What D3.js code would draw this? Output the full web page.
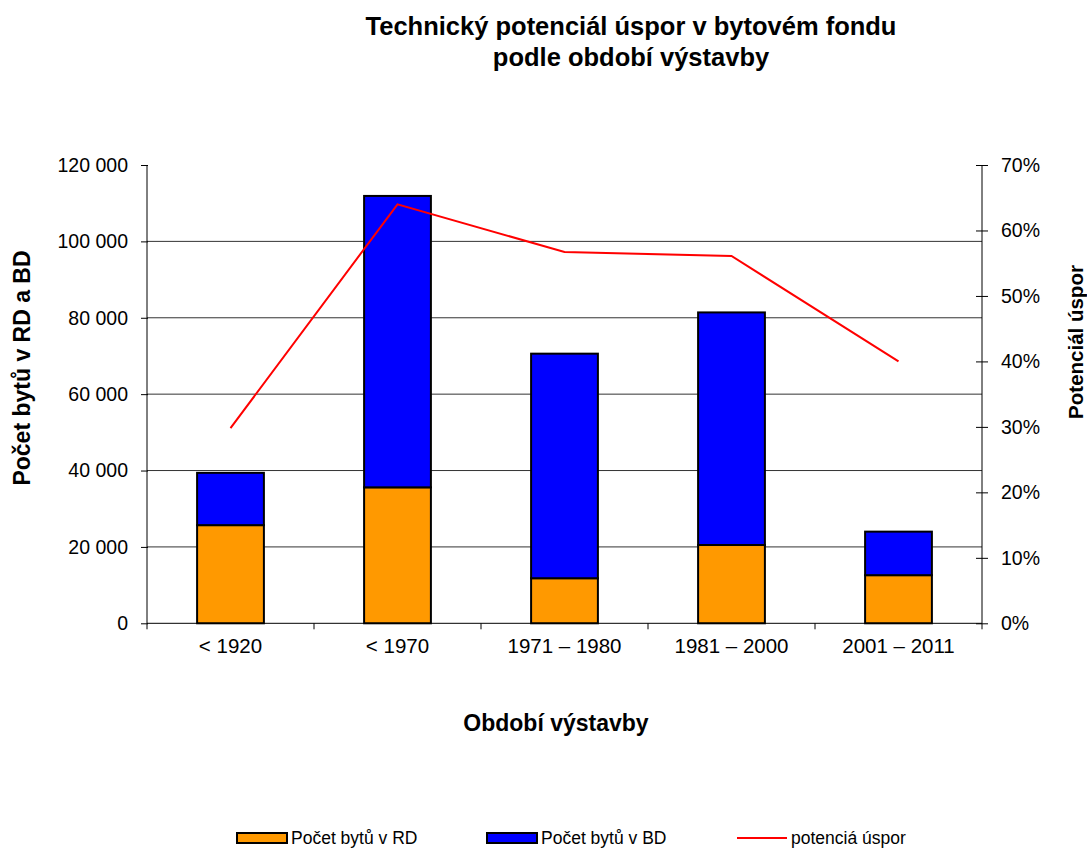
<!DOCTYPE html>
<html>
<head>
<meta charset="utf-8">
<script src="https://cdn.jsdelivr.net/npm/d3@7"></script>
<style>
  html, body { margin: 0; padding: 0; background: #fff; }
  svg { display: block; font-family: "Liberation Sans", Arial, sans-serif; }
</style>
</head>
<body>
<svg id="chart" width="1087" height="848"></svg>
<script>
// Construction periods and dwelling counts
const periods = ["< 1920", "< 1970", "1971 – 1980", "1981 – 2000", "2001 – 2011"];
const flatsRD = [25700, 35600, 11800, 20500, 12600];   // family houses
const flatsBD = [13700, 76300, 58800, 60900, 11400];   // apartment buildings
const savings = [0.298, 0.640, 0.567, 0.561, 0.400];   // technical savings potential

const leftTicks = [0, 20000, 40000, 60000, 80000, 100000, 120000];
const rightTicks = [0, 0.1, 0.2, 0.3, 0.4, 0.5, 0.6, 0.7];

const seriesNames = ["Počet bytů v RD", "Počet bytů v BD", "potenciá úspor"];
const colors = { rd: "#FF9900", bd: "#0000FF", line: "#FF0000" };

const svg = d3.select("#chart");
const plot = { left: 147, right: 982, top: 165, bottom: 623.3 };

const x = d3.scaleBand().domain(periods).range([plot.left, plot.right]).paddingInner(0).paddingOuter(0);
const yL = d3.scaleLinear().domain([0, 120000]).range([plot.bottom, plot.top]);
const yR = d3.scaleLinear().domain([0, 0.7]).range([plot.bottom, plot.top]);

const fmtThousands = v => d3.format(",")(v).replace(/,/g, " ");

// Horizontal gridlines
svg.append("g")
  .selectAll("line")
  .data(leftTicks.filter(v => v > 0 && v < 120000))
  .join("line")
  .attr("x1", plot.left).attr("x2", plot.right)
  .attr("y1", d => yL(d)).attr("y2", d => yL(d))
  .attr("stroke", "#333").attr("stroke-width", 1);

// Stacked bars
const stackData = periods.map((p, i) => ({ period: p, rd: flatsRD[i], bd: flatsBD[i] }));
const stacked = d3.stack().keys(["rd", "bd"])(stackData);
const barW = x.bandwidth() * 0.4;

svg.append("g")
  .selectAll("g")
  .data(stacked)
  .join("g")
  .attr("fill", d => colors[d.key])
  .selectAll("rect")
  .data(d => d)
  .join("rect")
  .attr("x", d => x(d.data.period) + (x.bandwidth() - barW) / 2)
  .attr("y", d => yL(d[1]))
  .attr("width", barW)
  .attr("height", d => yL(d[0]) - yL(d[1]))
  .attr("stroke", "#000")
  .attr("stroke-width", 2);

// Savings potential line
const line = d3.line()
  .x((d, i) => x(periods[i]) + x.bandwidth() / 2)
  .y(d => yR(d));
svg.append("path")
  .datum(savings)
  .attr("d", line)
  .attr("fill", "none")
  .attr("stroke", colors.line)
  .attr("stroke-width", 2);

// Left axis
const axisL = d3.axisLeft(yL).tickValues(leftTicks).tickFormat(fmtThousands).tickSize(5).tickPadding(14);
const gL = svg.append("g").attr("transform", `translate(${plot.left},0)`).call(axisL);
gL.selectAll(".tick line").attr("x2", -6).attr("x1", 1);

// Right axis
const axisR = d3.axisRight(yR).tickValues(rightTicks).tickFormat(d3.format(".0%")).tickSize(5).tickPadding(14);
const gR = svg.append("g").attr("transform", `translate(${plot.right},0)`).call(axisR);
gR.selectAll(".tick line").attr("x1", -6).attr("x2", 6);

// Bottom axis
const axisB = d3.axisBottom(x).tickSize(0).tickPadding(15);
const gB = svg.append("g").attr("transform", `translate(0,${plot.bottom})`).call(axisB);
gB.select(".domain").remove();
svg.append("line")
  .attr("x1", plot.left).attr("x2", plot.right)
  .attr("y1", plot.bottom).attr("y2", plot.bottom)
  .attr("stroke", "#000");
svg.append("g")
  .selectAll("line")
  .data(periods.map(p => x(p)).concat([plot.right]))
  .join("line")
  .attr("x1", d => d).attr("x2", d => d)
  .attr("y1", plot.bottom).attr("y2", plot.bottom + 6)
  .attr("stroke", "#000");

[gL, gR, gB].forEach(g => {
  g.select(".domain").attr("stroke", "#000");
  g.selectAll(".tick line").attr("stroke", "#000");
  g.selectAll("text").attr("fill", "#000")
    .attr("font-family", "\"Liberation Sans\", Arial, sans-serif");
});
gL.selectAll("text").attr("font-size", 19.5);
gR.selectAll("text").attr("font-size", 19.5);
gB.selectAll("text").attr("font-size", 20.5);
gL.select(".domain").attr("d", `M0,${plot.top}V${plot.bottom}`);
gR.select(".domain").attr("d", `M0,${plot.top}V${plot.bottom}`);

// Titles
const title = svg.append("text")
  .attr("text-anchor", "middle")
  .attr("font-size", 25.5).attr("font-weight", "bold");
title.append("tspan").attr("x", 631).attr("y", 35).text("Technický potenciál úspor v bytovém fondu");
title.append("tspan").attr("x", 631).attr("y", 66).text("podle období výstavby");

svg.append("text")
  .attr("x", 556).attr("y", 731)
  .attr("text-anchor", "middle")
  .attr("font-size", 23).attr("font-weight", "bold")
  .text("Období výstavby");

svg.append("text")
  .attr("transform", "translate(30,368) rotate(-90)")
  .attr("text-anchor", "middle")
  .attr("font-size", 23).attr("font-weight", "bold")
  .text("Počet bytů v RD a BD");

svg.append("text")
  .attr("transform", "translate(1083,342) rotate(-90)")
  .attr("text-anchor", "middle")
  .attr("font-size", 20.5).attr("font-weight", "bold")
  .text("Potenciál úspor");

// Legend
const legend = svg.append("g").attr("transform", "translate(0,838)");
const legendX = [237, 487, 737];
[colors.rd, colors.bd].forEach((c, i) => {
  legend.append("rect")
    .attr("x", legendX[i]).attr("y", -5)
    .attr("width", 50).attr("height", 10)
    .attr("fill", c).attr("stroke", "#000").attr("stroke-width", 2);
});
legend.append("line")
  .attr("x1", legendX[2]).attr("x2", legendX[2] + 50)
  .attr("y1", 0).attr("y2", 0)
  .attr("stroke", colors.line).attr("stroke-width", 2);
seriesNames.forEach((n, i) => {
  legend.append("text")
    .attr("x", legendX[i] + 54).attr("y", 6)
    .attr("font-size", 17.5)
    .text(n);
});
</script>
</body>
</html>
